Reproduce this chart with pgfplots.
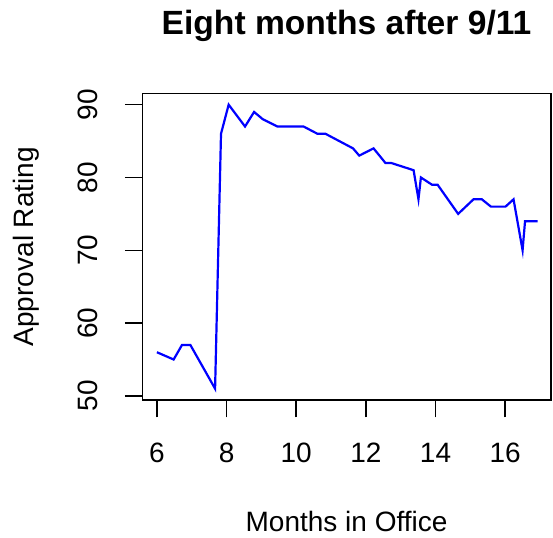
\documentclass[border=0pt]{standalone}
\usepackage{fontspec}
\setmainfont{Liberation Sans}
\usepackage{pgfplots}
\pgfplotsset{compat=1.18}

\pgfplotstableread{
month rating
6.00 56
6.48 55
6.72 57
6.96 57
7.67 51
7.84 86
8.06 90
8.53 87
8.79 89
9.04 88
9.46 87
10.21 87
10.61 86
10.84 86
11.63 84
11.81 83
12.22 84
12.56 82
12.72 82
13.37 81
13.51 77
13.58 80
13.90 79
14.06 79
14.65 75
15.09 77
15.33 77
15.59 76
16.01 76
16.24 77
16.50 70
16.57 74
16.93 74
}\approval

\begin{document}
\begin{tikzpicture}
\useasboundingbox (-142.3bp,-138bp) rectangle (410.7bp,400bp);
\begin{axis}[name=ax, at={(0,0)}, anchor=south west,
  scale only axis, width=408.5bp, height=306.7bp,
  xmin=5.58, xmax=17.31, ymin=49.44, ymax=91.56,
  xtick={6,8,...,16}, ytick={50,60,...,90},
  axis line style={line width=1.5bp}, every tick/.style={black, line width=1.5bp},
  tick align=outside, major tick length=17.3bp,
  xtick pos=bottom, ytick pos=left,
  /pgf/number format/assume math mode=true,
  ticklabel style={font=\fontsize{28bp}{33bp}\selectfont},
  xticklabel style={anchor=base, yshift=-45bp},
  yticklabel style={xshift=-27.7bp, rotate=90, anchor=base},
  clip=false]
  \addplot[blue, line width=2.2bp, mark=none] table[x=month, y=rating] {\approval};
\end{axis}
\node[anchor=base, font=\fontsize{33.6bp}{40bp}\selectfont\bfseries] at ([yshift=59bp]ax.north) {Eight months after 9/11};
\node[anchor=base, font=\fontsize{28bp}{33bp}\selectfont] at ([yshift=-131.7bp]ax.south) {Months in Office};
\node[anchor=base, rotate=90, font=\fontsize{28bp}{33bp}\selectfont] at ([xshift=-108.8bp]ax.west) {Approval Rating};
\end{tikzpicture}
\end{document}
